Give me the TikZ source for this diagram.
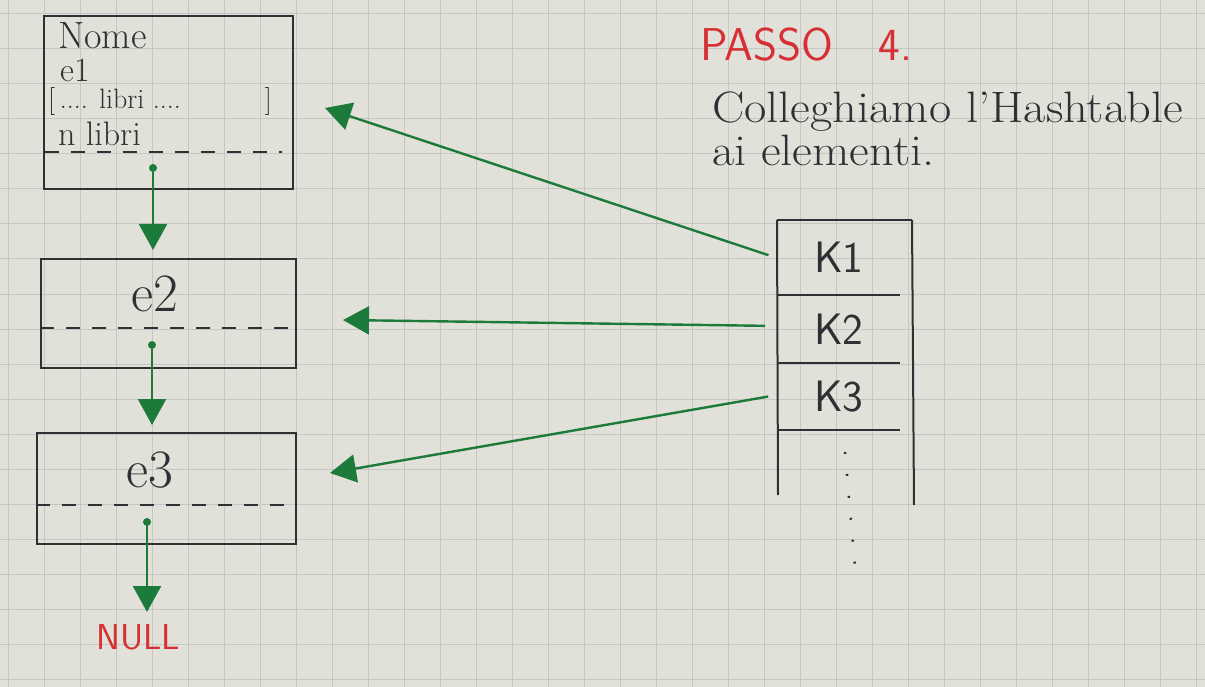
\documentclass[tikz,border=0pt]{standalone}
\usetikzlibrary{arrows.meta}
\definecolor{paper}{RGB}{226,225,217}
\definecolor{gridc}{RGB}{198,199,194}
\definecolor{pen}{RGB}{48,48,52}
\definecolor{mk}{RGB}{28,122,58}
\definecolor{redp}{RGB}{214,48,52}
\begin{document}
\begin{tikzpicture}[x=1pt,y=-1pt,
  box/.style={draw=pen, line width=2pt, rectangle, inner sep=0pt, anchor=north west},
  txt/.style={text=pen, inner sep=0pt},
  link/.style={draw=mk, line width=2.4pt, -{Triangle[length=26pt,width=28pt]}},
  dotc/.style={fill=mk, circle, inner sep=0pt, minimum size=8pt},
  cell/.style={rectangle, inner sep=0pt, minimum width=123pt},
  dashl/.style={pen, line width=2pt, dash pattern=on 14pt off 12pt}]
\useasboundingbox (0,0) rectangle (1205,687);
\fill[paper] (0,0) rectangle (1205,687);
\foreach \x in {8,44,...,1205} \draw[gridc, line width=1pt] (\x,0) -- (\x,687);
\foreach \y in {14,49,...,687} \draw[gridc, line width=1pt] (0,\y) -- (1205,\y);

% list boxes
\node[box, minimum width=249pt, minimum height=173pt] (n1) at (43,15) {};
\node[box, minimum width=255pt, minimum height=109pt] (n2) at (40,258) {};
\node[box, minimum width=259pt, minimum height=111pt] (n3) at (36,432) {};

\node[txt, anchor=west, font=\fontsize{38}{40}\selectfont] (nome) at (58,36) {Nome};
\node[txt, anchor=west, font=\fontsize{34}{36}\selectfont] (e1) at (60,70) {e1};
\node[txt, anchor=west, font=\fontsize{28}{30}\selectfont] (libri) at (48,102) {[\,.... libri ....\qquad\quad]};
\node[txt, anchor=west, font=\fontsize{34}{36}\selectfont] (nlibri) at (58,134) {n libri};
\draw[dashl] (45,152) -- (282,152);

\node[txt, font=\fontsize{54}{56}\selectfont] (e2) at (155,294) {e2};
\draw[dashl] (40,328) -- (295,328);
\node[txt, font=\fontsize{54}{56}\selectfont] (e3) at (150,470) {e3};
\draw[dashl] (36,505) -- (295,505);

\node[txt, text=redp, font=\fontsize{36}{38}\selectfont\sffamily] (null) at (138,637) {NULL};

% pointers
\node[dotc] (d1) at (153,168) {};
\node[dotc] (d2) at (152,345) {};
\node[dotc] (d3) at (147,522) {};
\draw[link, shorten >=8pt] (d1) -- (n2.north -| d1);
\draw[link, shorten >=7pt] (d2) -- (n3.north -| d2);
\draw[link, shorten >=12pt] (d3) -- (null.north -| d3);

% hash table
\node[cell, minimum height=75pt, anchor=north west] (k1) at (777,220) {};
\node[cell, minimum height=68pt, anchor=north west] (k2) at (777,295) {};
\node[cell, minimum height=67pt, anchor=north west] (k3) at (777,363) {};
\node[txt, font=\fontsize{44}{46}\selectfont\sffamily] at (k1.center) {K1};
\node[txt, font=\fontsize{44}{46}\selectfont\sffamily] at (k2.center) {K2};
\node[txt, font=\fontsize{44}{46}\selectfont\sffamily] at (k3.center) {K3};
\draw[pen, line width=2pt] (777,220) -- (912,220);
\draw[pen, line width=2pt] (777,220) -- (778,495);
\draw[pen, line width=2pt] (912,220) -- (914,505);
\draw[pen, line width=2pt] (k1.south west) -- (k1.south east);
\draw[pen, line width=2pt] (k2.south west) -- (k2.south east);
\draw[pen, line width=2pt] (k3.south west) -- (k3.south east);
\draw[pen, line width=2.5pt, dash pattern=on 2pt off 20pt] (845,452) -- (856,578);

% hash links
\coordinate (t1) at (325,108);
\coordinate (t2) at (343,320);
\coordinate (t3) at (330,473);
\draw[link, shorten <=9pt] (k1.west |- 0,258) -- (t1);
\draw[link, shorten <=12pt] (k2.west |- 0,326) -- (t2);
\draw[link, shorten <=9pt] (k3.west |- 0,395) -- (t3);

% titles
\node[txt, text=redp, anchor=west, font=\fontsize{46}{48}\selectfont\sffamily] (passo) at (700,45) {PASSO\quad 4.};
\node[txt, anchor=west, xscale=1.1, font=\fontsize{44}{46}\selectfont] (c1) at (712,112) {Colleghiamo l'Hashtable};
\node[txt, anchor=west, xscale=1.1, font=\fontsize{44}{46}\selectfont] (c2) at (712,150) {ai elementi.};
\end{tikzpicture}
\end{document}
